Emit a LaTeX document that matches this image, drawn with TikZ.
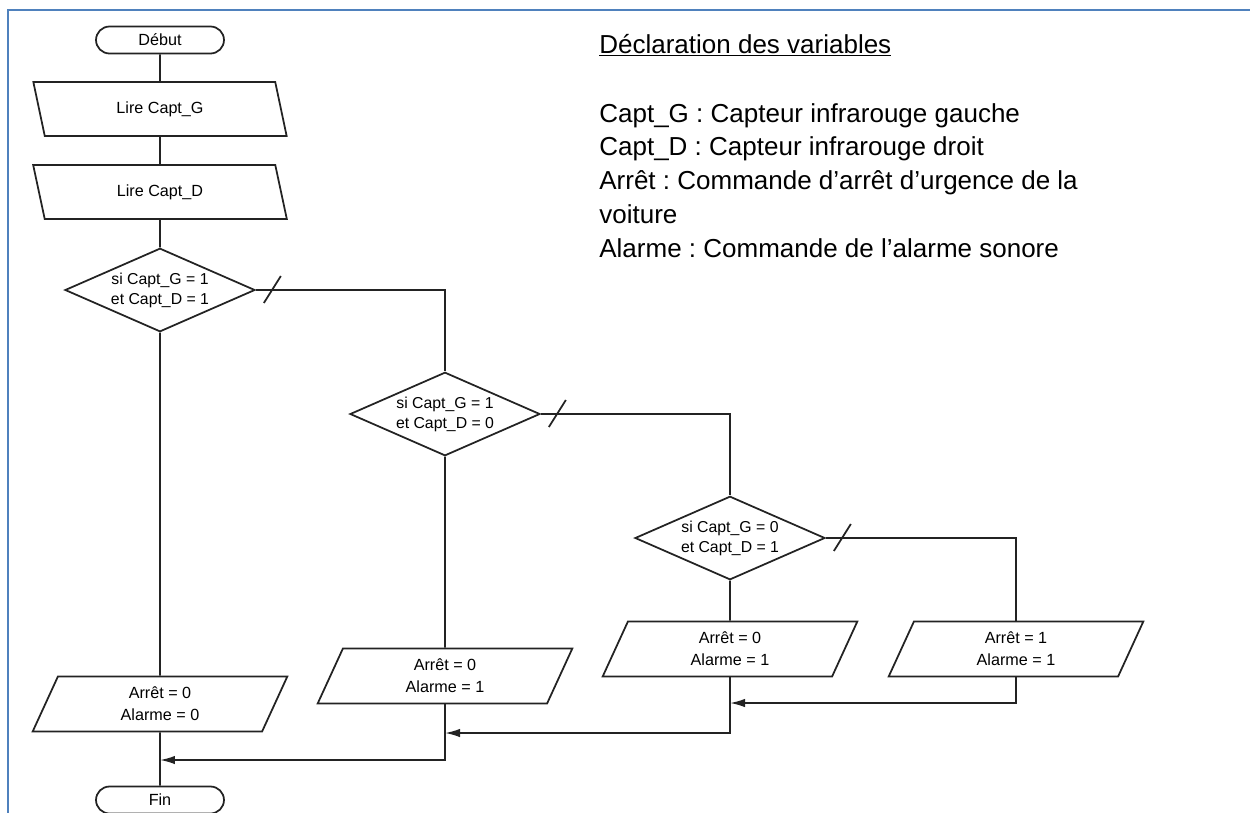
\documentclass[tikz,border=0pt]{standalone}
\usepackage{fontspec}
\setmainfont{Liberation Sans}
\usetikzlibrary{shapes.geometric,arrows.meta}
\definecolor{bleucadre}{RGB}{79,129,189}
\definecolor{gristrait}{RGB}{35,35,35}
\frenchspacing

\begin{document}
\begin{tikzpicture}[x=0.02cm,y=-0.02cm,
    trait/.style={draw=gristrait,line width=1pt},
    fleche/.style={trait,-{Latex[length=0.3cm,width=0.17cm]}},
    terminal/.style={rectangle,trait,rounded corners=0.27cm,minimum width=2.56cm,minimum height=0.54cm,inner sep=0pt,font=\fontsize{9.2}{11}\selectfont},
    lecture/.style={trapezium,trapezium left angle=106,trapezium right angle=74,trapezium stretches=true,trait,minimum width=5.08cm,minimum height=1.08cm,inner sep=0pt,font=\fontsize{9.2}{11}\selectfont},
    affect/.style={trapezium,trapezium left angle=74,trapezium right angle=106,trapezium stretches=true,trait,minimum width=5.1cm,minimum height=1.1cm,inner sep=0pt,align=center,font=\fontsize{9.2}{12.5}\selectfont},
    test/.style={diamond,aspect=2.26,trait,minimum width=3.8cm,minimum height=1.67cm,inner sep=0pt,align=center,font=\fontsize{9}{11.3}\selectfont},
    barre/.style={trait}]
      \useasboundingbox (0,0) rectangle (1250,812);
      \draw[bleucadre,line width=1.5pt] (8,830)--(8,10)--(1260,10);

      \node at (160,40) [terminal] (debut) {Début};
      \node at (160,109) [lecture] (lireG) {Lire Capt\_G};
      \node at (160,192) [lecture] (lireD) {Lire Capt\_D};
      \node at (160,290) [test] (d1) {si Capt\_G = 1\\et Capt\_D = 1};
      \node at (445,414) [test] (d2) {si Capt\_G = 1\\et Capt\_D = 0};
      \node at (730,538) [test] (d3) {si Capt\_G = 0\\et Capt\_D = 1};

      \node at (160,704) [affect] (b1) {Arrêt = 0\\Alarme = 0};
      \node at (445,676) [affect] (b2) {Arrêt = 0\\Alarme = 1};
      \node at (730,649) [affect] (b3) {Arrêt = 0\\Alarme = 1};
      \node at (1016,649) [affect] (b4) {Arrêt = 1\\Alarme = 1};
      \node at (160,800) [terminal] (fin) {Fin};

      \coordinate (j3) at (730,703);
      \coordinate (j2) at (445,733);
      \coordinate (j1) at (160,760);

      \draw[trait] (debut)--(lireG);
      \draw[trait] (lireG)--(lireD);
      \draw[trait] (lireD)--(d1);
      \draw[trait] (d1)--(b1);
      \draw[trait] (d1.east) -| (d2.north);
      \draw[trait] (d2)--(b2);
      \draw[trait] (d2.east) -| (d3.north);
      \draw[trait] (d3)--(b3);
      \draw[trait] (d3.east) -| (b4.north);
      \draw[barre] (d1.east) ++(8,13) -- ++(17,-27);
      \draw[barre] (d2.east) ++(8,13) -- ++(17,-27);
      \draw[barre] (d3.east) ++(8,13) -- ++(17,-27);

      \draw[fleche] (b4.south) |- (j3);
      \draw[fleche] (b3.south) |- (j2);
      \draw[fleche] (b2.south) |- (j1);
      \draw[trait] (b1)--(fin);

      \node at (599,53) [anchor=base west,inner sep=0pt,font=\fontsize{14.8}{19.2}\selectfont] (titre) {\underline{Déclaration des variables}};
      \node at (599,257) [anchor=base west,align=left,inner sep=0pt,font=\fontsize{14.8}{19.2}\selectfont] (vars)
        {Capt\_G : Capteur infrarouge gauche\\
         Capt\_D : Capteur infrarouge droit\\
         Arrêt : Commande d’arrêt d’urgence de la\\
         voiture\\
         Alarme : Commande de l’alarme sonore};
    \end{tikzpicture}
\end{document}
